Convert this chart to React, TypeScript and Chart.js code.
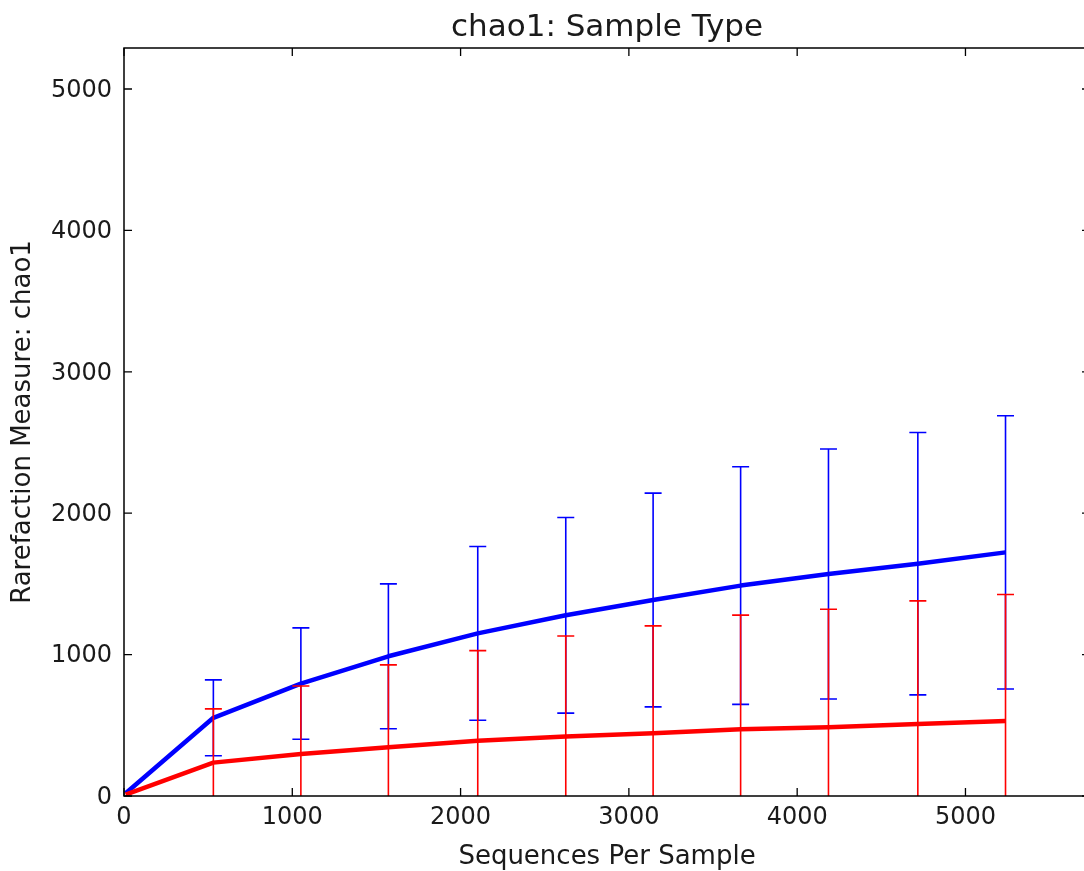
import React, { useEffect, useRef } from 'react';
import { Chart, registerables } from 'chart.js';

Chart.register(...registerables);

const FONT = '"DejaVu Sans", Verdana, sans-serif';
const TEXT = '#1a1a1a';

// Sequences per sample (rarefaction depths)
const depths = [10, 531, 1051, 1571, 2102, 2625, 3144, 3664, 4186, 4717, 5238];

// Series 1 (blue)
const blueMean = [20, 553, 795, 988, 1150, 1278, 1386, 1488, 1570, 1643, 1723];
const blueErr = [0, 268, 394, 512, 614, 692, 756, 840, 884, 928, 966];

// Series 2 (red)
const redMean = [10, 236, 297, 345, 391, 420, 444, 472, 486, 509, 531];
const redErr = [0, 380, 481, 582, 637, 712, 759, 807, 835, 871, 894];

// Tick values
const xTicks = [0, 1000, 2000, 3000, 4000, 5000];
const yTicks = [0, 1000, 2000, 3000, 4000, 5000];
const xMax = 5740;
const yMax = 5290;

const titleText = 'chao1: Sample Type';
const xLabel = 'Sequences Per Sample';
const yLabel = 'Rarefaction Measure: chao1';

const errorsByDataset = [redErr, blueErr];
const meansByDataset = [redMean, blueMean];
const colorsByDataset = ['#ff0000', '#0000ff'];

const errorBarPlugin = {
  id: 'errorBars',
  afterDatasetDraw(chart: any, args: any) {
    const idx = args.index;
    const errs = errorsByDataset[idx];
    const means = meansByDataset[idx];
    const color = colorsByDataset[idx];
    const xs = chart.scales.x;
    const ys = chart.scales.y;
    const ca = chart.chartArea;
    const ctx = chart.ctx;
    ctx.save();
    ctx.beginPath();
    ctx.rect(ca.left, ca.top, ca.right - ca.left, ca.bottom - ca.top);
    ctx.clip();
    ctx.strokeStyle = color;
    ctx.lineWidth = 1.6;
    for (let i = 0; i < depths.length; i++) {
      if (!errs[i]) continue;
      const x = xs.getPixelForValue(depths[i]);
      const yT = ys.getPixelForValue(means[i] + errs[i]);
      const yB = ys.getPixelForValue(means[i] - errs[i]);
      ctx.beginPath();
      ctx.moveTo(x, yT);
      ctx.lineTo(x, yB);
      ctx.moveTo(x - 8.5, yT);
      ctx.lineTo(x + 8.5, yT);
      ctx.moveTo(x - 8.5, yB);
      ctx.lineTo(x + 8.5, yB);
      ctx.stroke();
    }
    ctx.restore();
  },
};

const framePlugin = {
  id: 'frameTicks',
  afterDraw(chart: any) {
    const { left, right, top, bottom } = chart.chartArea;
    const ctx = chart.ctx;
    const xs = chart.scales.x;
    const ys = chart.scales.y;
    ctx.save();
    ctx.strokeStyle = '#000';
    ctx.lineWidth = 1.5;
    ctx.strokeRect(left, top, right - left, bottom - top);
    ctx.lineWidth = 1.3;
    ctx.beginPath();
    xs.ticks.forEach((t: any) => {
      const x = xs.getPixelForValue(t.value);
      ctx.moveTo(x, bottom);
      ctx.lineTo(x, bottom - 8);
      ctx.moveTo(x, top);
      ctx.lineTo(x, top + 8);
    });
    ys.ticks.forEach((t: any) => {
      const y = ys.getPixelForValue(t.value);
      ctx.moveTo(left, y);
      ctx.lineTo(left + 8, y);
      ctx.moveTo(right, y);
      ctx.lineTo(right - 8, y);
    });
    ctx.stroke();
    ctx.restore();
  },
};

export default function App() {
  const ref = useRef<HTMLCanvasElement | null>(null);

  useEffect(() => {
    if (!ref.current) return;
    const chart = new Chart(ref.current, {
      type: 'line',
      data: {
        datasets: [
          {
            label: 'Red',
            data: depths.map((d, i) => ({ x: d, y: redMean[i] })),
            borderColor: '#ff0000',
            backgroundColor: '#ff0000',
            borderWidth: 4.5,
            pointRadius: 0,
            tension: 0,
            borderJoinStyle: 'round',
          },
          {
            label: 'Blue',
            data: depths.map((d, i) => ({ x: d, y: blueMean[i] })),
            borderColor: '#0000ff',
            backgroundColor: '#0000ff',
            borderWidth: 4.5,
            pointRadius: 0,
            tension: 0,
            borderJoinStyle: 'round',
          },
        ],
      },
      options: {
        responsive: false,
        animation: false,
        devicePixelRatio: 1,
        layout: { padding: { left: 0, right: 10, top: 0, bottom: 0 } },
        plugins: {
          legend: { display: false },
          tooltip: { enabled: false },
          title: {
            display: true,
            fullSize: false,
            text: titleText,
            color: TEXT,
            font: { family: FONT, size: 31, weight: 'normal' },
            padding: { top: 9.65, bottom: 1.15 },
          },
        },
        scales: {
          x: {
            type: 'linear',
            min: 0,
            max: xMax,
            afterBuildTicks: (s: any) => {
              s.ticks = xTicks.map((v) => ({ value: v }));
            },
            afterFit: (s: any) => {
              s.height = 75;
            },
            grid: { display: false, drawTicks: false },
            border: { display: false },
            ticks: {
              padding: 7.4,
              color: TEXT,
              maxRotation: 0,
              autoSkip: false,
              font: { family: FONT, size: 24 },
              callback: (v: any) => String(v),
            },
            title: {
              display: true,
              text: xLabel,
              color: TEXT,
              font: { family: FONT, size: 26 },
              padding: { top: 0, bottom: -2 },
            },
          },
          y: {
            type: 'linear',
            min: 0,
            max: yMax,
            afterBuildTicks: (s: any) => {
              s.ticks = yTicks.map((v) => ({ value: v }));
            },
            afterFit: (s: any) => {
              s.width = 124;
            },
            grid: { display: false, drawTicks: false },
            border: { display: false },
            ticks: {
              padding: 12,
              labelOffset: 1.5,
              color: TEXT,
              autoSkip: false,
              font: { family: FONT, size: 24 },
              callback: (v: any) => String(v),
            },
            title: {
              display: true,
              text: yLabel,
              color: TEXT,
              font: { family: FONT, size: 26 },
              padding: { top: 7.8, bottom: 0 },
            },
          },
        },
      } as any,
      plugins: [errorBarPlugin, framePlugin],
    });
    return () => chart.destroy();
  }, []);

  return (
    <div
      style={{
        position: 'fixed',
        left: 0,
        top: 0,
        width: 1084,
        height: 871,
        overflow: 'hidden',
        background: '#fff',
      }}
    >
      <canvas ref={ref} width={1100} height={871} style={{ display: 'block' }} />
    </div>
  );
}
